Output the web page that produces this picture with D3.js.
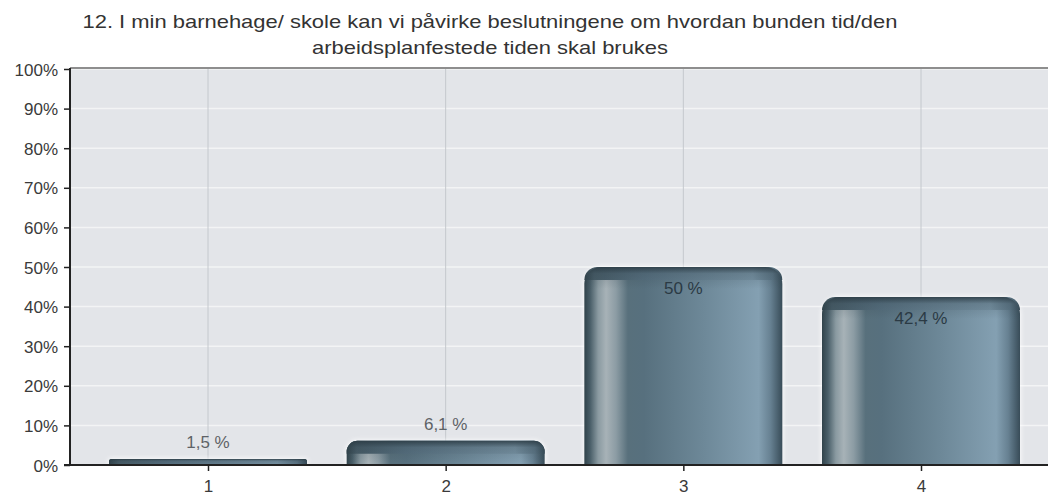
<!DOCTYPE html>
<html><head><meta charset="utf-8">
<script src="https://cdn.jsdelivr.net/npm/d3@7"></script>
<style>html,body{margin:0;padding:0;background:#fff;}svg{display:block;font-family:"Liberation Sans",Arial,sans-serif;}</style>
</head><body>
<svg id="c" width="1049" height="496"></svg>
<script>
const categories = ["1","2","3","4"];
const values = [1.5, 6.1, 50, 42.4];
const valueLabels = ["1,5 %","6,1 %","50 %","42,4 %"];
const yTicks = [0,10,20,30,40,50,60,70,80,90,100];
const titleLines = ["12. I min barnehage/ skole kan vi påvirke beslutningene om hvordan bunden tid/den","arbeidsplanfestede tiden skal brukes"];

const svg = d3.select("#c");
const L = 70, R = 1048, T = 68, B = 465;
const y = d3.scaleLinear().domain([0,100]).range([B, 69]);
const x = d3.scalePoint().domain(categories).range([208, 921]);
const barW = 198;

const defs = svg.append("defs");
function hgrad(id, stops){
  const g = defs.append("linearGradient").attr("id", id).attr("x1","0").attr("x2","1").attr("y1","0").attr("y2","0");
  stops.forEach(s => g.append("stop").attr("offset", s[0]).attr("stop-color", s[1]));
}
hgrad("body", [["0%","#31434b"],["3%","#4a5f69"],["7%","#8a9aa1"],["11%","#a7b2b7"],["16%","#8c9ca4"],["22%","#58707c"],["30%","#57707e"],["60%","#6d8898"],["88%","#84a0b2"],["94%","#678192"],["100%","#384c58"]]);
hgrad("cap", [["0%","#31434b"],["5%","#475c67"],["30%","#577080"],["85%","#7893a4"],["95%","#5c7585"],["100%","#384c58"]]);
const vg = defs.append("linearGradient").attr("id","capShade").attr("x1","0").attr("x2","0").attr("y1","0").attr("y2","1");
vg.append("stop").attr("offset","0%").attr("stop-color","#2a3a43").attr("stop-opacity",0.85);
vg.append("stop").attr("offset","30%").attr("stop-color","#2a3a43").attr("stop-opacity",0.2);
vg.append("stop").attr("offset","100%").attr("stop-color","#2a3a43").attr("stop-opacity",0);
const f = defs.append("filter").attr("id","halo").attr("x","-10%").attr("y","-30%").attr("width","120%").attr("height","160%");
f.append("feGaussianBlur").attr("stdDeviation",2);

// plot background
svg.append("rect").attr("x",L).attr("y",T).attr("width",R-L).attr("height",B-T).attr("fill","#e3e5e9");
// horizontal grid
svg.append("g").selectAll("line").data(yTicks.slice(1)).join("line")
  .attr("x1",L).attr("x2",R).attr("y1",d=>y(d)).attr("y2",d=>y(d))
  .attr("stroke","#f3f4f5").attr("stroke-width",1.5);
// vertical grid
svg.append("g").selectAll("line").data(categories).join("line")
  .attr("x1",d=>x(d)).attr("x2",d=>x(d)).attr("y1",T).attr("y2",B)
  .attr("stroke","#c4c8cd").attr("stroke-width",1);
// top border
svg.append("line").attr("x1",L).attr("x2",R).attr("y1",T).attr("y2",T).attr("stroke","#8e8e8e").attr("stroke-width",2);

function barPath(x0, w, top, h, r){
  r = Math.min(r, h, w/2);
  return `M${x0},${top+h}V${top+r}A${r},${r} 0 0 1 ${x0+r},${top}H${x0+w-r}A${r},${r} 0 0 1 ${x0+w},${top+r}V${top+h}Z`;
}
const data = categories.map((c,i)=>({c, v:values[i], lab:valueLabels[i]}));
const bars = svg.append("g");
data.forEach(d=>{
  const top = y(d.v), h = B - top, x0 = x(d.c) - barW/2;
  const r = Math.min(17, h*0.45);
  bars.append("path").attr("d", barPath(x0-1, barW+2, top-1, h+1, r+1)).attr("fill","#ffffff").attr("opacity",0.8).attr("filter","url(#halo)");
  bars.append("path").attr("d", barPath(x0, barW, top, h, r)).attr("fill","url(#body)");
  const ch = Math.min(13, h);
  bars.append("path").attr("d", barPath(x0, barW, top, ch, r)).attr("fill","url(#cap)");
  bars.append("path").attr("d", barPath(x0, barW, top, Math.min(22,h), r)).attr("fill","url(#capShade)");
});

// value labels
svg.append("g").selectAll("text").data(data).join("text")
  .attr("x", d=>x(d.c))
  .attr("y", d=> (B - y(d.v)) > 40 ? y(d.v) + 27 : y(d.v) - 11)
  .attr("text-anchor","middle").attr("font-size",17)
  .attr("fill", d=> (B - y(d.v)) > 40 ? "#2b3a44" : "#5e6266")
  .text(d=>d.lab);

// axes
const yAxis = svg.append("g").attr("transform",`translate(${L},0)`)
  .call(d3.axisLeft(y).tickValues(yTicks).tickFormat(d=>d+"%").tickSize(6).tickPadding(6));
yAxis.select(".domain").attr("stroke","#222").attr("stroke-width",2).attr("d",`M0,${T}V${B}`);
yAxis.selectAll(".tick line").attr("stroke","#222").attr("stroke-width",1.5);
yAxis.selectAll(".tick text").attr("font-size",17).attr("fill","#3a3a3a").attr("font-family","Liberation Sans, Arial, sans-serif").attr("dy","0.36em");

const xAxis = svg.append("g").attr("transform",`translate(0,${B})`)
  .call(d3.axisBottom(x).tickSize(6).tickPadding(9));
xAxis.select(".domain").attr("stroke","#222").attr("stroke-width",2).attr("d",`M${L-6},0H${R}`);
xAxis.selectAll(".tick line").attr("stroke","#222").attr("stroke-width",1.5);
xAxis.selectAll(".tick text").attr("font-size",17).attr("fill","#3a3a3a").attr("font-family","Liberation Sans, Arial, sans-serif");

// title
const tl = [ {t:titleLines[0], y:28, w:815}, {t:titleLines[1], y:54, w:356} ];
svg.append("g").selectAll("text").data(tl).join("text")
  .attr("x",490).attr("y",d=>d.y).attr("text-anchor","middle")
  .attr("font-size",19).attr("fill","#333")
  .attr("textLength",d=>d.w).attr("lengthAdjust","spacingAndGlyphs")
  .text(d=>d.t);
</script>
</body></html>
